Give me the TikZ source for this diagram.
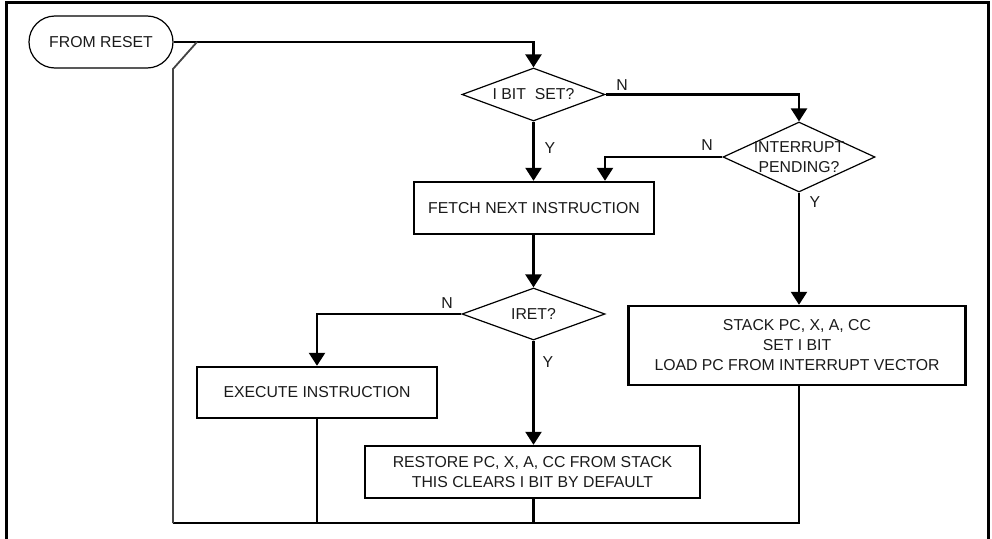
\documentclass[tikz,border=0pt]{standalone}
\usepackage{fontspec}
\setmainfont{Liberation Sans}
\usetikzlibrary{shapes.geometric,arrows.meta}
\definecolor{ink}{HTML}{1A1A1A}
\definecolor{retline}{HTML}{444444}

\begin{document}
\begin{tikzpicture}[x=1pt,y=-1pt,
  every node/.style={font=\fontsize{15.8}{20}\selectfont, text=ink},
  procbox/.style={draw=black, line width=2.4pt, rectangle, inner sep=0pt, align=center},
  decision/.style={draw=black, line width=1.2pt, diamond, inner sep=0pt},
  terminal/.style={draw=black, line width=1.2pt, rectangle, rounded corners=26pt, inner sep=0pt,
                   minimum width=144pt, minimum height=52pt},
  flow/.style={draw=black, line width=2.4pt, -{Triangle[width=16pt,length=13pt]}},
  link/.style={draw=black, line width=2.4pt},
  retpath/.style={draw=retline, line width=1.8pt},
  frame/.style={draw=black, line width=3pt},
  tag/.style={inner sep=0pt}]

  \useasboundingbox (0,0) rectangle (992,538);

  % open outer frame
  \coordinate (fbl) at (6,540);
  \coordinate (ftl) at (6,2);
  \coordinate (ftr) at (988,2);
  \coordinate (fbr) at (988,540);
  \draw[frame] (fbl) -- (ftl) -- (ftr) -- (fbr);

  % nodes
  \node[terminal] (reset) at (101,42) {FROM RESET};
  \node[decision, minimum width=143pt, minimum height=53pt,
        label={[tag]center:I BIT~ SET?}] (ibit) at (533.5,94.5) {};
  \node[decision, minimum width=152pt, minimum height=70pt,
        label={[tag,align=center]center:INTERRUPT\\PENDING?}] (intp) at (799,157) {};
  \node[procbox, minimum width=240pt, minimum height=52pt] (fetch) at (534,208) {FETCH NEXT INSTRUCTION};
  \node[decision, minimum width=143pt, minimum height=52pt,
        label={[tag]center:IRET?}] (iret) at (533.5,314) {};
  \node[procbox, minimum width=337pt, minimum height=79pt] (stack) at (797,345.5)
       {STACK PC, X, A, CC\\SET I BIT\\LOAD PC FROM INTERRUPT VECTOR};
  \node[procbox, minimum width=240pt, minimum height=51pt] (exec) at (317,392.5) {EXECUTE INSTRUCTION};
  \node[procbox, minimum width=335pt, minimum height=52pt] (restore) at (532.5,472)
       {RESTORE PC, X, A, CC FROM STACK\\THIS CLEARS I BIT BY DEFAULT};

  % routing points
  \coordinate (topjoin) at (533.5,42);
  \coordinate (merge) at (197,42);
  \coordinate (retbend) at (173,69);
  \coordinate (retcorner) at (173,523);
  \coordinate (intpfeed) at (605,157);

  % forward flow
  \draw[flow] (reset.east) -- (topjoin) -- (ibit.north);
  \draw[flow] (ibit.east) -| (intp.north);
  \draw[flow] (ibit.south) -- (fetch.north -| ibit.south);
  \draw[flow] (intp.west) -- (intpfeed) -- (fetch.north -| intpfeed);
  \draw[flow] (intp.south) -- (stack.north -| intp.south);
  \draw[flow] (fetch.south -| iret.north) -- (iret.north);
  \draw[flow] (iret.west) -| (exec.north);
  \draw[flow] (iret.south) -- (restore.north -| iret.south);

  % return to the top of the loop
  \draw[link] (stack.south -| intp.south) |- (retcorner);
  \draw[link] (exec.south) -- (exec.south |- retcorner);
  \draw[link] (restore.south -| iret.south) -- (iret.south |- retcorner);
  \draw[retpath] (retcorner) -- (retbend) -- (merge);

  % branch labels
  \node[tag] (nibit) at (622,85) {N};
  \node[tag] (yibit) at (550,148) {Y};
  \node[tag] (nintp) at (707,145) {N};
  \node[tag] (yintp) at (815,202) {Y};
  \node[tag] (niret) at (447,303) {N};
  \node[tag] (yiret) at (548,362) {Y};
\end{tikzpicture}
\end{document}
